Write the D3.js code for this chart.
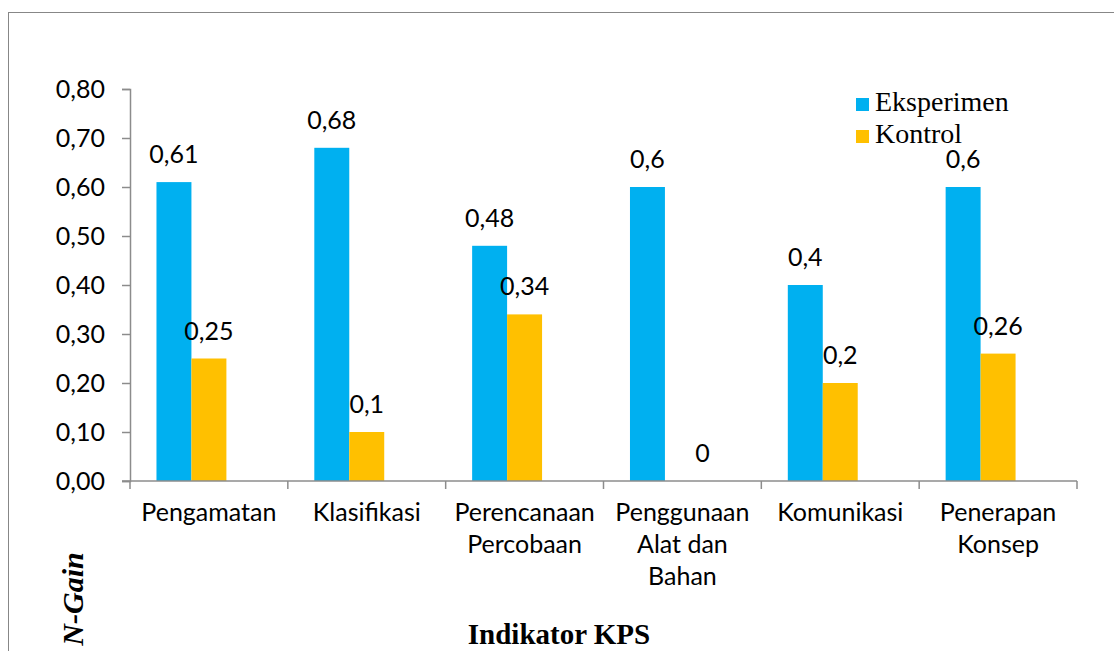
<!DOCTYPE html>
<html>
<head>
<meta charset="utf-8">
<script src="https://cdn.jsdelivr.net/npm/d3@7"></script>
<style>
  body { margin: 0; background: #fff; }
  svg { display: block; }
</style>
</head>
<body>
<svg id="chart"></svg>
<script>
// data
const categories = [
  ["Pengamatan"],
  ["Klasifikasi"],
  ["Perencanaan", "Percobaan"],
  ["Penggunaan", "Alat dan", "Bahan"],
  ["Komunikasi"],
  ["Penerapan", "Konsep"]
];
const seriesNames = ["Eksperimen", "Kontrol"];
const eksperimen = [0.61, 0.68, 0.48, 0.6, 0.4, 0.6];
const kontrol = [0.25, 0.1, 0.34, 0, 0.2, 0.26];
const valueLabels = [
  ["0,61", "0,68", "0,48", "0,6", "0,4", "0,6"],
  ["0,25", "0,1", "0,34", "0", "0,2", "0,26"]
];
const yTicks = [0, 0.1, 0.2, 0.3, 0.4, 0.5, 0.6, 0.7, 0.8];
const colors = ["#00B0F0", "#FFC000"];

const W = 1114, H = 651;
const axisColor = "#8c8c8c";
const sans = "Lato, 'Open Sans', sans-serif";
const serif = "'Liberation Serif', 'Times New Roman', serif";
const fs = 25;

const svg = d3.select("#chart").attr("width", W).attr("height", H);

// outer chart border (cropped at right and bottom)
svg.append("rect")
  .attr("x", 8.5).attr("y", 12.5)
  .attr("width", W + 20).attr("height", H + 20)
  .attr("fill", "none").attr("stroke", "#878787");

const keys = categories.map((c, i) => i);
const x0 = d3.scaleBand().domain(keys).range([130, 1077]).padding(0);
// Excel-style cluster: 3 slots wide incl. gap, two bars used
const barW = x0.bandwidth() * 35 / 158;
const x1 = d3.scaleBand().domain(seriesNames)
  .range([(x0.bandwidth() - 3 * barW) / 2, (x0.bandwidth() - 3 * barW) / 2 + 2 * barW]);

const y = d3.scaleLinear().domain([0, 0.8]).range([481, 89]);

const rows = seriesNames.map((s, si) => (si === 0 ? eksperimen : kontrol).map((v, i) => ({
  series: s, si, cat: i, value: v, label: valueLabels[si][i]
})));
const flat = rows.flat();

// bars
svg.append("g").selectAll("rect")
  .data(flat)
  .join("rect")
  .attr("x", d => x0(d.cat) + x1(d.series))
  .attr("y", d => y(d.value))
  .attr("width", x1.bandwidth())
  .attr("height", d => y(0) - y(d.value))
  .attr("fill", d => colors[d.si]);

// y axis
const yAxis = d3.axisLeft(y).tickValues(yTicks).tickSize(8).tickPadding(17)
  .tickFormat(d => d3.format(".2f")(d).replace(".", ","));
const gy = svg.append("g").attr("transform", "translate(130,0)").call(yAxis);
gy.select(".domain").attr("stroke", axisColor).attr("stroke-width", 1.5);
gy.selectAll(".tick line").attr("stroke", axisColor).attr("stroke-width", 1.5);
gy.selectAll(".tick text").attr("font-family", sans).attr("font-size", fs)
  .attr("fill", "#000").attr("dy", "0.35em");

// x axis line and boundary ticks
const gx = svg.append("g");
gx.append("line")
  .attr("x1", 122).attr("x2", x0.range()[1])
  .attr("y1", y(0)).attr("y2", y(0))
  .attr("stroke", axisColor).attr("stroke-width", 1.5);
const bounds = keys.map(k => x0(k)).concat([x0.range()[1]]);
gx.selectAll("line.tk")
  .data(bounds)
  .join("line")
  .attr("class", "tk")
  .attr("x1", d => d).attr("x2", d => d)
  .attr("y1", y(0)).attr("y2", y(0) + 8)
  .attr("stroke", axisColor).attr("stroke-width", 1.5);

// category labels
const cl = gx.selectAll("text.cat")
  .data(categories)
  .join("text")
  .attr("class", "cat")
  .attr("text-anchor", "middle")
  .attr("font-family", sans).attr("font-size", fs)
  .attr("fill", "#000");
cl.selectAll("tspan")
  .data((d, i) => d.map(t => ({ t, i })))
  .join("tspan")
  .attr("x", d => x0(d.i) + x0.bandwidth() / 2)
  .attr("y", (d, j) => 521 + j * 32)
  .text(d => d.t);

// value labels (the zero label sits a little to the right, as in Excel)
svg.append("g").selectAll("text")
  .data(flat)
  .join("text")
  .attr("x", d => x0(d.cat) + x1(d.series) + x1.bandwidth() / 2 + (d.value === 0 ? 20 : 0))
  .attr("y", d => y(d.value) - 19)
  .attr("text-anchor", "middle")
  .attr("font-family", sans).attr("font-size", fs)
  .attr("fill", "#000")
  .text(d => d.label);

// legend
const lg = svg.append("g").selectAll("g")
  .data(seriesNames)
  .join("g")
  .attr("transform", (d, i) => `translate(856,${98 + i * 32})`);
lg.append("rect").attr("width", 13).attr("height", 13).attr("fill", (d, i) => colors[i]);
lg.append("text")
  .attr("x", 19).attr("y", 13)
  .attr("font-family", serif).attr("font-size", 28)
  .attr("fill", "#000")
  .text(d => d);

// axis titles
svg.append("text")
  .attr("x", 559).attr("y", 644)
  .attr("text-anchor", "middle")
  .attr("font-family", serif).attr("font-size", 29).attr("font-weight", "bold")
  .attr("fill", "#000")
  .text("Indikator KPS");

svg.append("text")
  .attr("transform", "translate(83,599) rotate(-90)")
  .attr("text-anchor", "middle")
  .attr("font-family", serif).attr("font-size", 30)
  .attr("font-weight", "bold").attr("font-style", "italic")
  .attr("fill", "#000")
  .text("N-Gain");
</script>
</body>
</html>
